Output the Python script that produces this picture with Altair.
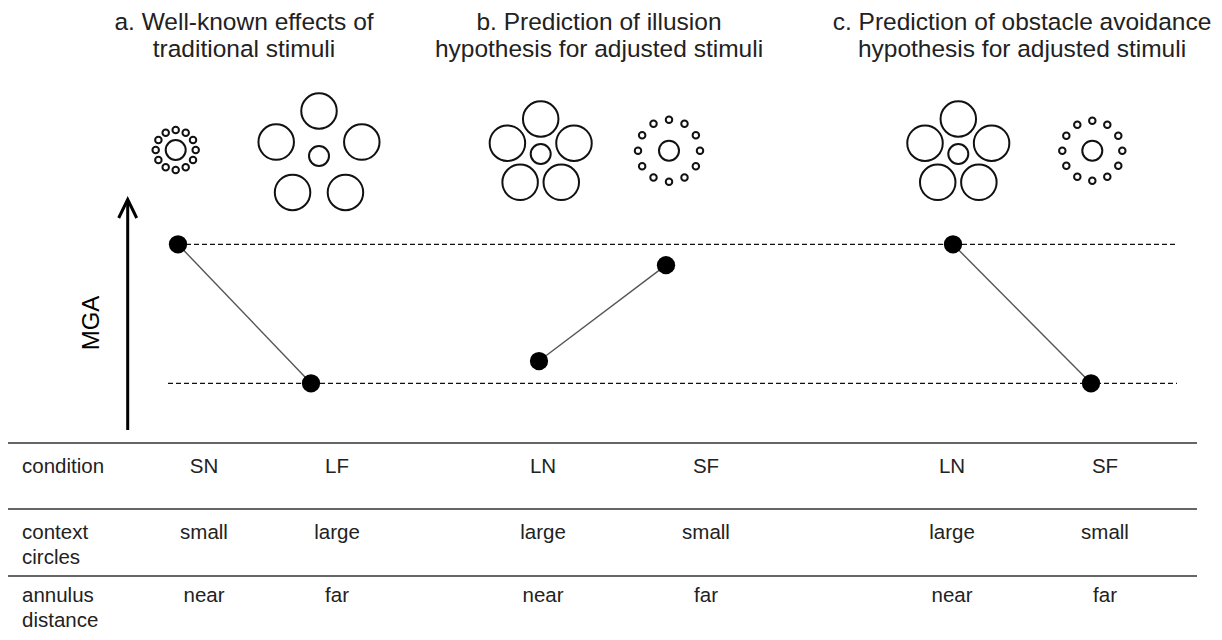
import math
import altair as alt
import pandas as pd

# ---------------- data ----------------
panels = ["a", "a", "b", "b", "c", "c"]
conditions = ["SN", "LF", "LN", "SF", "LN", "SF"]
context_circles = ["small", "large", "large", "small", "large", "small"]
annulus_distance = ["near", "far", "near", "far", "near", "far"]
mga_level = [1.0, 0.0, 0.16, 0.85, 1.0, 0.0]          # relative MGA (1 = high line, 0 = low line)
reference_levels = [1.0, 0.0]
panel_title_1 = ["a. Well-known effects of", "b. Prediction of illusion",
                 "c. Prediction of obstacle avoidance"]
panel_title_2 = ["traditional  stimuli", "hypothesis for adjusted stimuli",
                 "hypothesis for adjusted stimuli"]
row_label_1 = ["condition", "context", "annulus"]
row_label_2 = ["", "circles", "distance"]
axis_label = "MGA"

# ---------------- layout (page pixels) ----------------
X0, X1, Y0, Y1 = 8, 1214, 8, 632
point_x = [178, 311, 539, 666, 953, 1091]
table_x = [204, 337, 543, 706, 952, 1105]
title_x = [244, 599, 1022]
title_base = [29.5, 56.5]
stim_cx = [175.7, 319.0, 540.7, 669.0, 958.3, 1092.3]
stim_cy = [150.0, 156.0, 154.0, 150.7, 154.0, 150.7]
ring_r = [20, 45, 35, 31, 35, 30]
n_context = {"small": 12, "large": 5}
context_size = {"small": 42, "large": 1260}
target_size = 400
high_y, low_y = 244.3, 383.3
ref_x0 = [178, 168]
ref_x1 = [1177, 1177]
table_line_y = [443, 509, 576]
table_line_x = [8, 1197]
row_base_1 = [472.5, 538.5, 602.0]
row_base_2 = [None, 563.5, 626.5]
row_label_x = 22
table_font = 20.5
arrow_x, arrow_top, arrow_bottom = 127.7, 201, 430
head_dx, head_dy = 9, 17
mga_label_xy = (92, 323)

FONT = "Liberation Sans"
TXT = "#222222"

xs = alt.Scale(domain=[X0, X1], nice=False, zero=False)
ys = alt.Scale(domain=[Y0, Y1], nice=False, zero=False, reverse=True)
X = lambda f="x": alt.X(f"{f}:Q", scale=xs, axis=None, title=None)
Y = lambda f="y": alt.Y(f"{f}:Q", scale=ys, axis=None, title=None)

# ---- titles ----
tdf = pd.DataFrame({
    "x": title_x * 2,
    "y": [title_base[0]] * 3 + [title_base[1]] * 3,
    "t": panel_title_1 + panel_title_2,
})
titles = alt.Chart(tdf).mark_text(font=FONT, fontSize=24.5, color=TXT, align="center",
                                  baseline="alphabetic").encode(x=X(), y=Y(), text="t:N")

# ---- stimuli ----
rows = []
for i, ctx in enumerate(context_circles):
    cx, cy, r = stim_cx[i], stim_cy[i], ring_r[i]
    rows.append({"x": cx, "y": cy, "s": target_size})
    n = n_context[ctx]
    for k in range(n):
        ang = math.radians(k * 30) if n == 12 else math.radians(-90 + 72 * k)
        rows.append({"x": cx + r * math.cos(ang), "y": cy + r * math.sin(ang),
                     "s": context_size[ctx]})
sdf = pd.DataFrame(rows)
stimuli = alt.Chart(sdf).mark_point(shape="circle", filled=False, color="#111111", opacity=1,
                                    strokeWidth=2).encode(
    x=X(), y=Y(), size=alt.Size("s:Q", scale=None, legend=None))

# ---- arrow + MGA label ----
shaft = alt.Chart(pd.DataFrame({"x": [arrow_x], "y": [arrow_top], "y2": [arrow_bottom]})).mark_rule(
    color="black", strokeWidth=3).encode(x=X(), y=Y(), y2="y2:Q")
head = alt.Chart(pd.DataFrame({
    "x": [arrow_x - head_dx, arrow_x, arrow_x + head_dx],
    "y": [arrow_top + head_dy, arrow_top - 1.5, arrow_top + head_dy],
    "o": [0, 1, 2]})).mark_line(color="black", strokeWidth=3, strokeJoin="miter").encode(
    x=X(), y=Y(), order="o:Q")
mga_lab = alt.Chart(pd.DataFrame({"x": [mga_label_xy[0]], "y": [mga_label_xy[1]], "t": [axis_label]})).mark_text(
    font=FONT, fontSize=24, color="black", angle=270, align="center", baseline="middle").encode(
    x=X(), y=Y(), text="t:N")

# ---- table ----
ldf = pd.DataFrame({"x": [table_line_x[0]] * 3, "x2": [table_line_x[1]] * 3, "y": table_line_y})
tlines = alt.Chart(ldf).mark_rule(color="#333333", strokeWidth=1.3).encode(x=X(), x2="x2:Q", y=Y())

lab_rows = []
for j in range(3):
    lab_rows.append({"x": row_label_x, "y": row_base_1[j], "t": row_label_1[j]})
    if row_label_2[j]:
        lab_rows.append({"x": row_label_x, "y": row_base_2[j], "t": row_label_2[j]})
labels = alt.Chart(pd.DataFrame(lab_rows)).mark_text(
    font=FONT, fontSize=table_font, color=TXT, align="left", baseline="alphabetic").encode(
    x=X(), y=Y(), text="t:N")

val_rows = []
for j, vals in enumerate([conditions, context_circles, annulus_distance]):
    for i, v in enumerate(vals):
        val_rows.append({"x": table_x[i], "y": row_base_1[j], "t": v})
values = alt.Chart(pd.DataFrame(val_rows)).mark_text(
    font=FONT, fontSize=table_font, color=TXT, align="center", baseline="alphabetic").encode(
    x=X(), y=Y(), text="t:N")

canvas = alt.layer(titles, stimuli, shaft, head, mga_lab, tlines, labels, values)

# ---- MGA predictions (own y scale aligned with the dashed lines) ----
p_low = low_y - Y0
vmax = p_low / (low_y - high_y)
vmin = (p_low - (Y1 - Y0)) / (low_y - high_y)
ms = alt.Scale(domain=[vmin, vmax], nice=False, zero=False)

mdf = pd.DataFrame({"x": point_x, "mga": mga_level, "panel": panels, "condition": conditions})
rdf = pd.DataFrame({"x": ref_x0, "x2": ref_x1, "mga": reference_levels})
refs = alt.Chart(rdf).mark_rule(color="#111111", strokeWidth=1.2, strokeDash=[5, 3]).encode(
    x=X(), x2="x2:Q", y=alt.Y("mga:Q", scale=ms, axis=None))
conn = alt.Chart(mdf).mark_line(color="#555555", strokeWidth=1.4).encode(
    x=X(), y=alt.Y("mga:Q", scale=ms, axis=None), detail="panel:N")
pts = alt.Chart(mdf).mark_circle(size=335, color="black", opacity=1).encode(
    x=X(), y=alt.Y("mga:Q", scale=ms, axis=None))
mga_layer = alt.layer(refs, conn, pts)

chart = alt.layer(canvas, mga_layer).resolve_scale(y="independent").properties(
    width=X1 - X0, height=Y1 - Y0, padding=0,
    autosize=alt.AutoSizeParams(type="none"),
    background="white",
).configure_view(stroke=None)

chart.save("out.html", embed_options={"renderer": "svg", "actions": False})
